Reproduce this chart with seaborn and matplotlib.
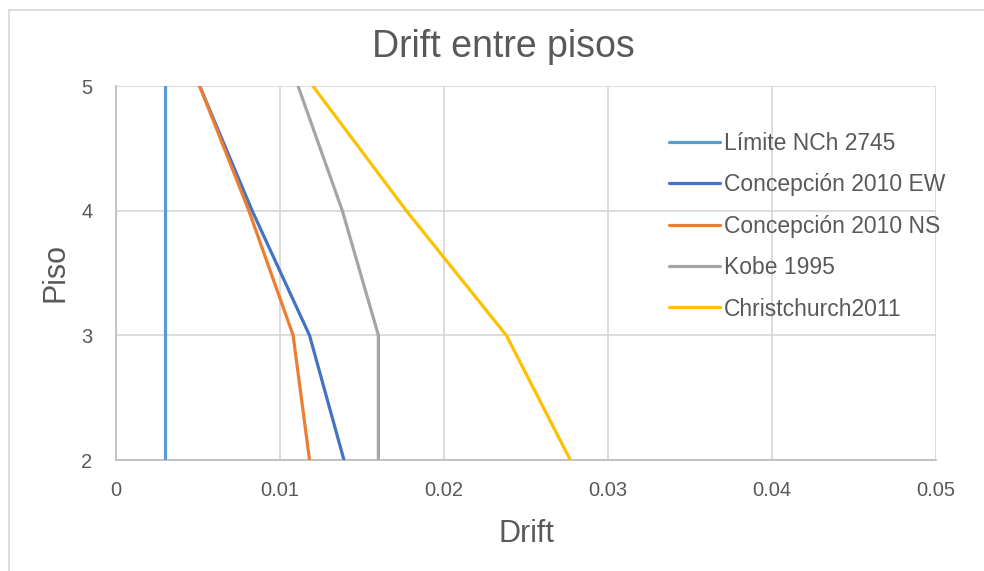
import matplotlib
matplotlib.use("Agg")
import matplotlib.pyplot as plt
import seaborn as sns
import pandas as pd
from matplotlib.patches import Rectangle

# Interstory drift per floor for each record
pisos = [5, 4, 3, 2]
limite_nch2745 = [0.003, 0.003, 0.003, 0.003]
concepcion_ew = [0.0051, 0.0083, 0.0118, 0.0139]
concepcion_ns = [0.0051, 0.0081, 0.0108, 0.0118]
kobe_1995 = [0.0111, 0.0138, 0.0160, 0.0160]
christchurch_2011 = [0.0120, 0.0177, 0.0238, 0.0277]

series = {
    "Límite NCh 2745": limite_nch2745,
    "Concepción 2010 EW": concepcion_ew,
    "Concepción 2010 NS": concepcion_ns,
    "Kobe 1995": kobe_1995,
    "Christchurch2011": christchurch_2011,
}
colors = ["#5B9BD5", "#4472C4", "#ED7D31", "#A5A5A5", "#FFC000"]

x_ticks = [0, 0.01, 0.02, 0.03, 0.04, 0.05]
x_tick_labels = ["0", "0.01", "0.02", "0.03", "0.04", "0.05"]
y_ticks = [2, 3, 4, 5]

rows = []
for name, vals in series.items():
    for p, d in zip(pisos, vals):
        rows.append({"Serie": name, "Piso": p, "Drift": d})
df = pd.DataFrame(rows)

sns.set_theme(style="white")
plt.rcParams["font.family"] = ["Liberation Sans", "DejaVu Sans"]
text_color = "#595959"

fig = plt.figure(figsize=(9.84, 5.71), dpi=100)
ax = fig.add_axes([116 / 984, 1 - 460 / 571, (936 - 116) / 984, (460 - 86) / 571])

sns.lineplot(
    data=df, x="Drift", y="Piso", hue="Serie", palette=colors,
    sort=False, estimator=None, linewidth=2.3, ax=ax, zorder=3,
)

ax.set_xlim(0, 0.05)
ax.set_ylim(2, 5)
ax.set_xticks(x_ticks)
ax.set_xticklabels(x_tick_labels)
ax.set_yticks(y_ticks)
ax.grid(True, color="#D9D9D9", linewidth=1.3, zorder=0)
ax.set_axisbelow(True)
for side in ["top", "right"]:
    ax.spines[side].set_visible(False)
for side in ["left", "bottom"]:
    ax.spines[side].set_color("#BFBFBF")
    ax.spines[side].set_linewidth(1.3)
ax.tick_params(axis="x", length=0, labelsize=14.5, colors=text_color, pad=15)
ax.tick_params(axis="y", length=0, labelsize=14.5, colors=text_color, pad=17)

ax.set_xlabel("Drift", fontsize=22, color=text_color, labelpad=14)
ax.set_ylabel("Piso", fontsize=22, color=text_color, labelpad=8)
fig.text(503 / 984, 1 - 47 / 571, "Drift entre pisos", fontsize=27,
         color=text_color, ha="center", va="center")

leg = ax.legend(
    loc="upper left", bbox_to_anchor=((660 - 116) / 820, 1 - (123 - 86) / 374),
    frameon=False, fontsize=16.5, handlelength=2.2, handletextpad=0.2,
    labelspacing=0.8, borderaxespad=0,
)
for t in leg.get_texts():
    t.set_color(text_color)
for h in leg.get_lines():
    h.set_linewidth(2.3)

# Chart area frame
fig.patches.append(Rectangle((9 / 984, -0.05), 1.1, 1 - 10 / 571 + 0.05,
                             transform=fig.transFigure, fill=False,
                             edgecolor="#D9D9D9", linewidth=1.3))

fig.savefig("out.png", dpi=100)
